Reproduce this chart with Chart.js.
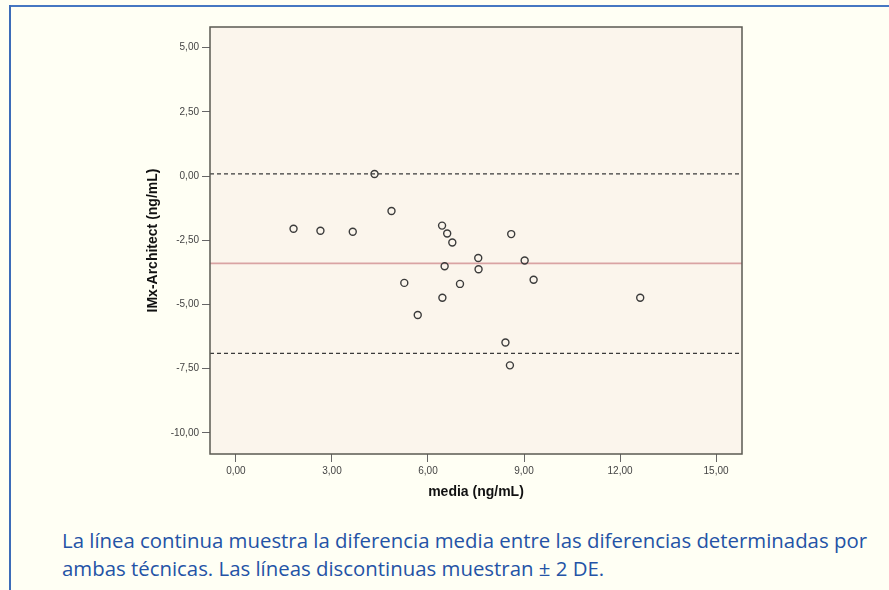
<!DOCTYPE html>
<html>
<head>
<meta charset="utf-8">
<script src="https://cdn.jsdelivr.net/npm/chart.js@4"></script>
<style>
html,body{margin:0;padding:0;background:#fffff4;width:889px;height:590px;overflow:hidden;}
#frameTop{position:absolute;left:9px;top:5px;width:880px;height:2px;background:#4677c2;}
#frameLeft{position:absolute;left:9px;top:5px;width:2px;height:585px;background:#3d6cb8;}
#wrap{position:absolute;left:0;top:0;width:889px;height:520px;}
#caption{position:absolute;left:62px;top:527px;font-family:"Open Sans";font-size:20px;line-height:28px;color:#2453a6;white-space:nowrap;transform-origin:0 0;}
</style>
</head>
<body>
<div id="frameTop"></div><div id="frameLeft"></div>
<div id="wrap"><canvas id="c" width="889" height="520"></canvas></div>
<div id="caption"><span id="l1">La línea continua muestra la diferencia media entre las diferencias determinadas por</span><br><span id="l2">ambas técnicas. Las líneas discontinuas muestran ± 2 DE.</span></div>
<script>
// Data
const mediaValues = [1.80, 2.64, 3.65, 4.33, 4.86, 5.26, 5.68, 6.44, 6.60, 6.76, 6.52, 6.45, 7.00, 7.57, 7.58, 8.42, 8.56, 8.60, 9.02, 9.30, 12.63];
const diffValues  = [-2.05, -2.13, -2.17, 0.08, -1.36, -4.16, -5.41, -1.93, -2.24, -2.59, -3.51, -4.74, -4.20, -3.19, -3.63, -6.48, -7.37, -2.26, -3.29, -4.04, -4.74];
const meanDiff = -3.40;
const upperLimit = 0.08;
const lowerLimit = -6.90;
const xTickValues = [0, 3, 6, 9, 12, 15];
const yTickValues = [5, 2.5, 0, -2.5, -5, -7.5, -10];
const xRange = [-0.81, 15.81];
const yRange = [-10.82, 5.80];

const fmt = v => Number(v).toFixed(2).replace('.', ',');
const hLine = y => [{x: xRange[0], y: y}, {x: xRange[1], y: y}];

const plotFrame = {
  id: 'plotFrame',
  beforeDraw(chart) {
    const {ctx, chartArea: a} = chart;
    ctx.save();
    ctx.fillStyle = '#fbf5ec';
    ctx.fillRect(a.left, a.top, a.right - a.left, a.bottom - a.top);
    ctx.restore();
  },
  afterDraw(chart) {
    const {ctx, chartArea: a} = chart;
    ctx.save();
    ctx.strokeStyle = '#5b5a52';
    ctx.lineWidth = 1.5;
    ctx.strokeRect(a.left, a.top, a.right - a.left, a.bottom - a.top);
    ctx.restore();
  }
};

const tickFont = {family: '"Liberation Sans", Arial, sans-serif', size: 10};
const titleFont = {family: '"Liberation Sans", Arial, sans-serif', size: 14, weight: 'bold'};

new Chart(document.getElementById('c'), {
  type: 'scatter',
  data: {
    datasets: [
      {
        type: 'scatter',
        data: mediaValues.map((m, i) => ({x: m, y: diffValues[i]})),
        pointRadius: 3.5,
        pointBorderWidth: 1.4,
        borderColor: '#3b3b3b',
        backgroundColor: 'rgba(0,0,0,0)',
        order: 0
      },
      {
        type: 'line',
        data: hLine(upperLimit),
        borderColor: '#3a3a3a',
        borderWidth: 1.3,
        borderDash: [4, 3],
        pointRadius: 0,
        order: 1
      },
      {
        type: 'line',
        data: hLine(lowerLimit),
        borderColor: '#3a3a3a',
        borderWidth: 1.3,
        borderDash: [4, 3],
        pointRadius: 0,
        order: 1
      },
      {
        type: 'line',
        data: hLine(meanDiff),
        borderColor: '#d9a3a3',
        borderWidth: 1.6,
        pointRadius: 0,
        order: 1
      }
    ]
  },
  options: {
    responsive: false,
    animation: false,
    devicePixelRatio: 1,
    layout: {padding: {left: 140, top: 27, right: 147, bottom: 6}},
    plugins: {legend: {display: false}, tooltip: {enabled: false}},
    scales: {
      x: {
        type: 'linear',
        position: 'bottom',
        min: xRange[0],
        max: xRange[1],
        afterBuildTicks: s => { s.ticks = xTickValues.map(v => ({value: v})); },
        afterFit: s => { s.height = 60; },
        ticks: {callback: v => fmt(v), font: tickFont, color: '#444', maxRotation: 0, autoSkip: false, padding: 3},
        grid: {drawOnChartArea: false, drawTicks: true, tickLength: 8, color: '#666', lineWidth: 1},
        border: {display: false},
        title: {display: true, text: 'media (ng/mL)', font: titleFont, color: '#111', padding: {top: 0, bottom: 13.6}}
      },
      y: {
        type: 'linear',
        position: 'left',
        min: yRange[0],
        max: yRange[1],
        afterBuildTicks: s => { s.ticks = yTickValues.map(v => ({value: v})); },
        afterFit: s => { s.width = 70; },
        ticks: {callback: v => fmt(v), font: tickFont, color: '#444', autoSkip: false, padding: 3},
        grid: {drawOnChartArea: false, drawTicks: true, tickLength: 8, color: '#666', lineWidth: 1},
        border: {display: false},
        title: {display: true, text: 'IMx-Architect (ng/mL)', font: titleFont, color: '#111', padding: {top: 4.6, bottom: 0}}
      }
    }
  },
  plugins: [plotFrame]
});

function fitCaption() {
  const cap = document.getElementById('caption');
  cap.style.transform = 'none';
  const w = document.getElementById('l1').getBoundingClientRect().width;
  if (w > 0) cap.style.transform = 'scaleX(' + (805 / w) + ')';
}
fitCaption();
if (document.fonts && document.fonts.ready) document.fonts.ready.then(fitCaption);
</script>
</body>
</html>
